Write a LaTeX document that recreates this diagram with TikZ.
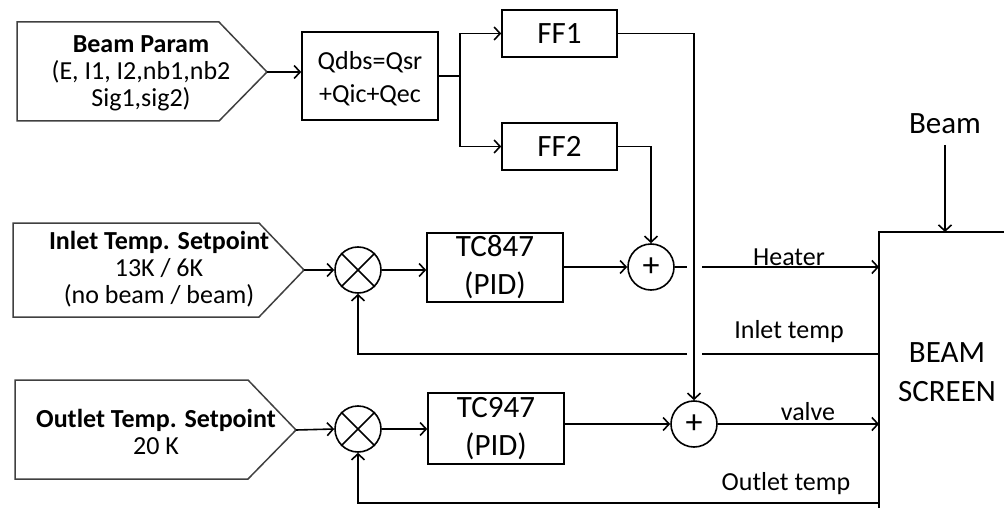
\documentclass[tikz,border=0pt]{standalone}
\usepackage{fontspec}
\setmainfont{Carlito}
\usetikzlibrary{arrows.meta,calc}
\newcommand\fmid{\fontsize{26}{27}\selectfont}
\newcommand\fbig{\fontsize{31}{39}\selectfont}
\begin{document}
\begin{tikzpicture}[x=1pt,y=-1pt,line width=1.6pt,
  >={Straight Barb[length=6pt,width=13pt]},
  box/.style={draw,inner sep=0pt,align=center},
  pent/.style={draw=black!75,line width=1.5pt},
  lab/.style={font=\fmid,anchor=base,inner sep=0pt},
  sum/.style={draw,circle,inner sep=0pt,minimum size=46pt}]
\useasboundingbox (0,0) rectangle (1004,508);
% input pentagons
\draw[pent] (17,22) -- (219,22) -- (267,72) -- (219,121) -- (17,121) -- cycle;
\coordinate (bpT) at (267,72);
\node[align=center,font=\fmid] (bptxt) at (141,73) {\textbf{Beam Param}\\(E, I1, I2,nb1,nb2\\Sig1,sig2)};
\draw[pent] (13,223) -- (259,223) -- (304,270) -- (259,317) -- (13,317) -- cycle;
\coordinate (inT) at (304,270);
\node[align=center,font=\fmid] (intxt) at (159,269) {\textbf{Inlet Temp. Setpoint}\\13K / 6K\\(no beam / beam)};
\draw[pent] (15,380) -- (248,380) -- (296,430) -- (248,479) -- (15,479) -- cycle;
\coordinate (outT) at (296,430);
\node[align=center,font=\fmid] (outtxt) at (156,432) {\textbf{Outlet Temp. Setpoint}\\20 K};
% blocks
\draw (302,32) rectangle (438,120);
\node[align=center,inner sep=0pt,font=\fontsize{26}{33}\selectfont,minimum width=136pt,minimum height=88pt] (q) at (370,79) {Qdbs=Qsr\\+Qic+Qec};
\node[box,minimum width=115pt,minimum height=47pt,font=\fbig] (ff1) at (559.5,33.5) {FF1};
\node[box,minimum width=115pt,minimum height=47pt,font=\fbig] (ff2) at (559.5,146.5) {FF2};
\node[box,minimum width=136pt,minimum height=69pt,font=\fbig] (tc8) at (495,267.5) {TC847\\[-1pt](PID)};
\node[box,minimum width=136pt,minimum height=71pt,font=\fbig] (tc9) at (496,428.5) {TC947\\[-1pt](PID)};
% summing junctions
\node[sum] (x1) at (358,270) {};
\draw (x1.north east) -- (x1.south west) (x1.north west) -- (x1.south east);
\node[sum] (x2) at (358,429) {};
\draw (x2.north east) -- (x2.south west) (x2.north west) -- (x2.south east);
\node[sum,font=\fontsize{34}{34}\selectfont] (p1) at (651,267) {+};
\node[sum,font=\fontsize{34}{34}\selectfont] (p2) at (694,424) {+};
% beam screen
\draw (1010,232) -- (879,232) -- (879,515);
\node[align=center,font=\fbig] (bs) at (947,372) {BEAM\\SCREEN};
\node[font=\fbig,inner sep=0pt] (beam) at (945,124) {Beam};
\coordinate (bsT) at (945,232);
\draw[->] (945,145) -- (bsT);
% coordinates on the beam screen
\coordinate (hA) at (687,267); \coordinate (hB) at (702,267); \coordinate (hE) at (879,267);
\coordinate (iE) at (879,354); \coordinate (iB) at (702,354); \coordinate (iA) at (687,354);
\coordinate (vE) at (879,424);
\coordinate (oE) at (879,503);
\coordinate (split) at (460,76);
% connectors
\draw[->] (bpT) -- (bpT -| q.west);
\draw (q.east |- split) -- (split);
\draw[->] (split) |- (ff1.west);
\draw[->] (split) |- (ff2.west);
\draw[->] (ff1.east) -| (p2.north);
\draw[->] (ff2.east) -| (p1.north);
\draw[->] (inT) -- (x1.west);
\draw[->] (x1.east) -- (x1.east -| tc8.west);
\draw[->] (tc8.east |- p1) -- (p1.west);
\draw (p1.east) -- (hA);
\draw[->] (hB) -- (hE);
\draw (iE) -- (iB);
\draw[->] (iA) -| (x1.south);
\draw[->] (outT) -- (x2.west);
\draw[->] (x2.east) -- (x2.east -| tc9.west);
\draw[->] (tc9.east |- p2) -- (p2.west);
\draw[->] (p2.east) -- (vE);
\draw[->] (oE) -| (x2.south);
% signal labels
\node[lab] (lh) at (789,265) {Heater};
\node[lab] (li) at (789,338) {Inlet temp};
\node[lab] (lv) at (808,420) {valve};
\node[lab] (lo) at (786,490) {Outlet temp};
\end{tikzpicture}
\end{document}
